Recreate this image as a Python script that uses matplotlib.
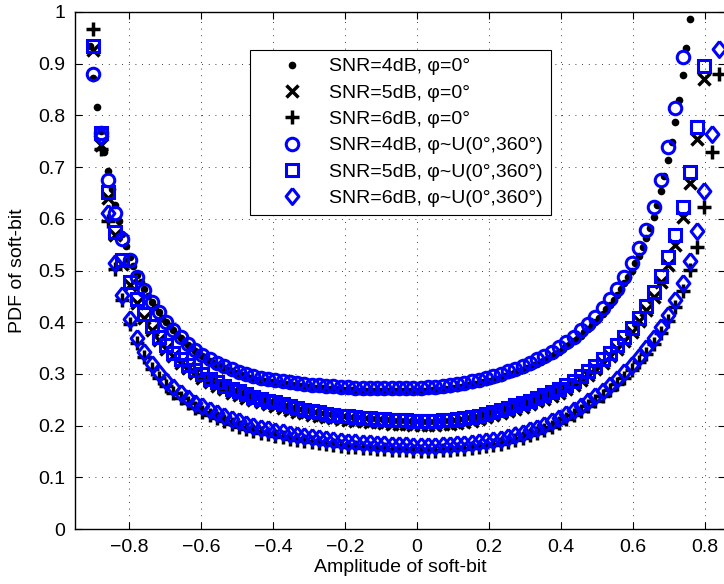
import numpy as np
import matplotlib
matplotlib.use("Agg")
import matplotlib.pyplot as plt

plt.rcParams['font.family'] = ['Liberation Sans', 'DejaVu Sans']
plt.rcParams['font.size'] = 14

# soft-bit amplitude grids: coarse one for most runs, finer one for the 4 dB phi=0 run
amp_coarse = np.linspace(-1, 1, 100)
amp_fine = np.linspace(-1, 1, 199)

# SNR=4dB, phi=0 (fine grid, first visible index 9)
pdf_4db_fixed = [
    0.935, 0.872, 0.816, 0.770, 0.729, 0.692, 0.658, 0.626, 0.596, 0.570, 0.547,
    0.526, 0.508, 0.492, 0.477, 0.464, 0.451, 0.440, 0.429, 0.419, 0.409,
    0.400, 0.392, 0.384, 0.376, 0.369, 0.362, 0.356, 0.350, 0.344, 0.339,
    0.334, 0.329, 0.325, 0.322, 0.318, 0.315, 0.311, 0.308, 0.305, 0.302,
    0.300, 0.297, 0.295, 0.293, 0.291, 0.289, 0.288, 0.286, 0.285, 0.284,
    0.283, 0.282, 0.281, 0.280, 0.279, 0.278, 0.277, 0.276, 0.275, 0.274,
    0.273, 0.273, 0.272, 0.272, 0.271, 0.271, 0.270, 0.270, 0.269, 0.269,
    0.268, 0.268, 0.267, 0.267, 0.267, 0.267, 0.266, 0.266, 0.266, 0.266,
    0.266, 0.266, 0.266, 0.266, 0.266, 0.266, 0.266, 0.266, 0.266, 0.266,
    0.267, 0.267, 0.268, 0.268, 0.269, 0.269, 0.270, 0.270, 0.271, 0.272,
    0.273, 0.275, 0.276, 0.278, 0.279, 0.281, 0.282, 0.284, 0.285, 0.287,
    0.289, 0.291, 0.293, 0.295, 0.298, 0.300, 0.303, 0.305, 0.308, 0.311,
    0.314, 0.317, 0.320, 0.323, 0.327, 0.331, 0.335, 0.339, 0.343, 0.348,
    0.353, 0.358, 0.363, 0.368, 0.374, 0.381, 0.387, 0.394, 0.401, 0.408,
    0.416, 0.425, 0.434, 0.443, 0.453, 0.464, 0.475, 0.487, 0.500, 0.514,
    0.529, 0.545, 0.563, 0.582, 0.603, 0.627, 0.653, 0.682, 0.714, 0.748,
    0.787, 0.829, 0.878, 0.930, 0.986,
]

# SNR=5dB, phi=0 (coarse grid, first visible index 5)
pdf_5db_fixed = [
    0.927, 0.742, 0.640, 0.568, 0.513,
    0.471, 0.437, 0.409, 0.385, 0.365, 0.348, 0.334, 0.322, 0.311, 0.301,
    0.292, 0.284, 0.277, 0.270, 0.264, 0.259, 0.254, 0.249, 0.245, 0.241,
    0.238, 0.234, 0.231, 0.227, 0.224, 0.221, 0.219, 0.216, 0.214, 0.212,
    0.211, 0.209, 0.208, 0.207, 0.206, 0.205, 0.204, 0.203, 0.203, 0.202,
    0.202, 0.202, 0.202, 0.203, 0.204, 0.205, 0.207, 0.209, 0.212, 0.216,
    0.220, 0.224, 0.228, 0.232, 0.236, 0.241, 0.247, 0.252, 0.258, 0.264,
    0.271, 0.279, 0.288, 0.298, 0.309, 0.321, 0.334, 0.348, 0.364, 0.382,
    0.402, 0.423, 0.448, 0.477, 0.511, 0.549, 0.604, 0.670, 0.754, 0.870,
]

# SNR=6dB, phi=0 (coarse grid, first visible index 5)
pdf_6db_fixed = [
    0.968, 0.735, 0.595, 0.503, 0.442,
    0.396, 0.360, 0.332, 0.310, 0.292, 0.277, 0.264, 0.253, 0.243, 0.234,
    0.227, 0.220, 0.214, 0.208, 0.203, 0.198, 0.194, 0.190, 0.186, 0.183,
    0.180, 0.177, 0.174, 0.172, 0.170, 0.168, 0.166, 0.164, 0.162, 0.160,
    0.159, 0.158, 0.157, 0.156, 0.155, 0.154, 0.153, 0.152, 0.152, 0.151,
    0.151, 0.151, 0.151, 0.152, 0.153, 0.154, 0.155, 0.156, 0.158, 0.160,
    0.162, 0.165, 0.168, 0.172, 0.176, 0.181, 0.186, 0.192, 0.198, 0.205,
    0.212, 0.220, 0.228, 0.237, 0.247, 0.257, 0.268, 0.280, 0.293, 0.307,
    0.323, 0.339, 0.358, 0.379, 0.402, 0.429, 0.461, 0.501, 0.546, 0.623,
    0.730, 0.881,
]

# SNR=4dB, phi~U(0,360) (coarse grid, first visible index 5)
pdf_4db_uniform = [
    0.880, 0.765, 0.675, 0.611, 0.560,
    0.520, 0.488, 0.462, 0.439, 0.419, 0.401, 0.385, 0.371, 0.358, 0.347,
    0.337, 0.329, 0.322, 0.315, 0.309, 0.304, 0.300, 0.296, 0.293, 0.290,
    0.288, 0.286, 0.284, 0.282, 0.280, 0.279, 0.278, 0.277, 0.276, 0.275,
    0.274, 0.273, 0.273, 0.272, 0.272, 0.272, 0.272, 0.272, 0.272, 0.272,
    0.273, 0.274, 0.275, 0.276, 0.278, 0.280, 0.283, 0.286, 0.289, 0.292,
    0.296, 0.300, 0.305, 0.310, 0.316, 0.322, 0.328, 0.335, 0.343, 0.352,
    0.362, 0.372, 0.384, 0.397, 0.411, 0.427, 0.445, 0.465, 0.488, 0.514,
    0.544, 0.579, 0.622, 0.675, 0.739, 0.815, 0.913,
]

# SNR=5dB, phi~U(0,360) (coarse grid, first visible index 5)
pdf_5db_uniform = [
    0.935, 0.765, 0.652, 0.575, 0.520,
    0.478, 0.444, 0.416, 0.392, 0.372, 0.355, 0.341, 0.329, 0.318, 0.308,
    0.299, 0.291, 0.284, 0.277, 0.271, 0.266, 0.261, 0.256, 0.252, 0.248,
    0.245, 0.241, 0.238, 0.234, 0.231, 0.228, 0.226, 0.223, 0.221, 0.219,
    0.218, 0.216, 0.215, 0.214, 0.213, 0.212, 0.211, 0.210, 0.210, 0.209,
    0.209, 0.209, 0.209, 0.210, 0.211, 0.212, 0.214, 0.216, 0.219, 0.223,
    0.227, 0.231, 0.235, 0.239, 0.243, 0.248, 0.254, 0.259, 0.265, 0.271,
    0.278, 0.286, 0.295, 0.305, 0.316, 0.328, 0.341, 0.355, 0.371, 0.389,
    0.409, 0.432, 0.459, 0.490, 0.526, 0.569, 0.622, 0.691, 0.777, 0.896,
]

# SNR=6dB, phi~U(0,360) (coarse grid, first visible index 6)
pdf_6db_uniform = [
    0.760, 0.611, 0.515, 0.452,
    0.406, 0.370, 0.342, 0.320, 0.302, 0.287, 0.274, 0.263, 0.253, 0.244,
    0.237, 0.230, 0.224, 0.218, 0.213, 0.208, 0.204, 0.200, 0.196, 0.193,
    0.190, 0.187, 0.184, 0.182, 0.180, 0.178, 0.176, 0.174, 0.172, 0.170,
    0.169, 0.168, 0.167, 0.166, 0.165, 0.164, 0.163, 0.162, 0.162, 0.161,
    0.161, 0.161, 0.161, 0.162, 0.163, 0.164, 0.165, 0.166, 0.168, 0.170,
    0.172, 0.175, 0.178, 0.182, 0.186, 0.191, 0.196, 0.202, 0.208, 0.215,
    0.222, 0.230, 0.238, 0.247, 0.257, 0.267, 0.278, 0.290, 0.303, 0.317,
    0.333, 0.350, 0.369, 0.390, 0.414, 0.442, 0.476, 0.519, 0.576, 0.654,
    0.764, 0.928,
]

labels = [
    'SNR=4dB, \u03c6=0\u00b0',
    'SNR=5dB, \u03c6=0\u00b0',
    'SNR=6dB, \u03c6=0\u00b0',
    'SNR=4dB, \u03c6~U(0\u00b0,360\u00b0)',
    'SNR=5dB, \u03c6~U(0\u00b0,360\u00b0)',
    'SNR=6dB, \u03c6~U(0\u00b0,360\u00b0)',
]

x_ticks = [-0.8, -0.6, -0.4, -0.2, 0, 0.2, 0.4, 0.6, 0.8]
x_tick_labels = ['\u22120.8', '\u22120.6', '\u22120.4', '\u22120.2', '0', '0.2', '0.4', '0.6', '0.8']
y_ticks = [0, 0.1, 0.2, 0.3, 0.4, 0.5, 0.6, 0.7, 0.8, 0.9, 1]
y_tick_labels = ['0', '0.1', '0.2', '0.3', '0.4', '0.5', '0.6', '0.7', '0.8', '0.9', '1']

diamond = [(0, 1), (0.8, 0), (0, -1), (-0.8, 0), (0, 1)]

# (grid, first index, values, last index, style)
runs = [
    (amp_fine, 9, pdf_4db_fixed, 174, dict(marker='o', ms=5.5, mfc='k', mec='k', mew=0)),
    (amp_coarse, 5, pdf_5db_fixed, 89, dict(marker='x', ms=8, mec='k', mew=2.5)),
    (amp_coarse, 5, pdf_6db_fixed, 91, dict(marker='+', ms=9.5, mec='k', mew=2.5)),
    (amp_coarse, 5, pdf_4db_uniform, 86, dict(marker='o', ms=9, mfc='none', mec='b', mew=2.2)),
    (amp_coarse, 5, pdf_5db_uniform, 89, dict(marker='s', ms=8, mfc='none', mec='b', mew=2.2)),
    (amp_coarse, 6, pdf_6db_uniform, 91, dict(marker=diamond, ms=11.5, mfc='none', mec='b', mew=2.2)),
]

fig = plt.figure(figsize=(7.24, 5.84), dpi=100)
ax = fig.add_axes([75 / 724, 55 / 584, 650 / 724, 517 / 584])

for (grid, first, vals, last, style), lab in zip(runs, labels):
    assert first + len(vals) - 1 == last
    ax.plot(grid[first:first + len(vals)], vals, linestyle='none', label=lab, **style)

ax.set_xlim(-0.95, 0.855)
ax.set_ylim(0, 1)
ax.set_xticks(x_ticks)
ax.set_xticklabels(x_tick_labels)
ax.set_yticks(y_ticks)
ax.set_yticklabels(y_tick_labels)
ax.set_axisbelow(True)
ax.grid(True, color='k', linestyle=(0, (1, 7)), linewidth=0.6)
ax.tick_params(direction='in', length=5, width=0.8, top=True, right=True, pad=7)
for sp in ax.spines.values():
    sp.set_linewidth(1.0)

ax.set_xlabel('Amplitude of soft-bit', labelpad=2)
ax.set_ylabel('PDF of soft-bit', labelpad=9)

leg = ax.legend(loc='upper left', bbox_to_anchor=((250 - 75) / 650, (529 - 50) / 517),
                borderaxespad=0, fancybox=False, edgecolor='k', framealpha=1,
                handlelength=3.5, handletextpad=0.17, labelspacing=0.45,
                borderpad=0.4, numpoints=1, fontsize=14)
leg.get_frame().set_linewidth(0.8)

fig.savefig('out.png', dpi=100)
